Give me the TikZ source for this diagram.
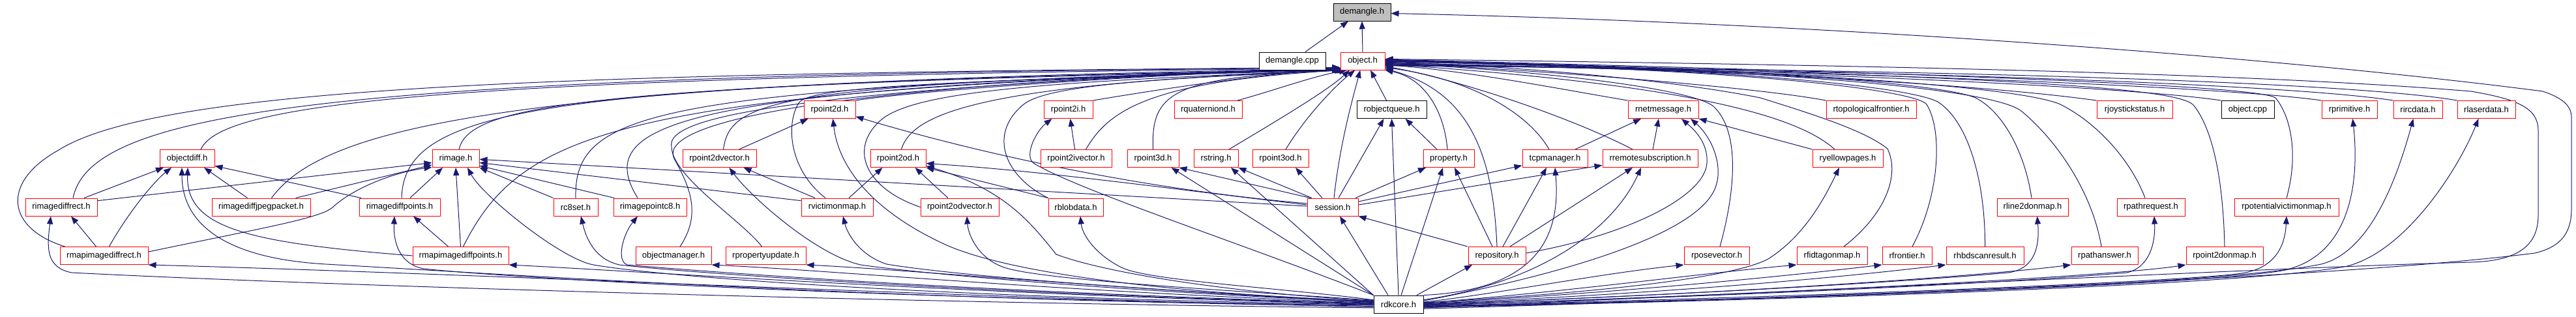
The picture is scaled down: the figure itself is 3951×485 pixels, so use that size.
\documentclass[tikz,border=0pt]{standalone}
\usepackage{fontspec}
\setmainfont{Liberation Sans}
\usetikzlibrary{arrows.meta}
\definecolor{edgeblue}{HTML}{191970}
\definecolor{nodegray}{HTML}{BFBFBF}
\pgfdeclarelayer{bglayer}
\pgfdeclarelayer{edgelayer}
\pgfsetlayers{bglayer,edgelayer,main}
\begin{document}
\begin{tikzpicture}[x=1pt,y=-1pt,
  box/.style={draw=red, line width=1pt, fill=white, minimum height=27pt, inner sep=0pt, text=black, font=\fontsize{13pt}{15pt}\selectfont},
  blk/.style={box, draw=black},
  e/.style={draw=edgeblue, line width=1pt, -{Triangle[length=12pt,width=9pt]}}]
\begin{pgfonlayer}{bglayer}
\fill[white] (0,0) rectangle (3951,485);
\end{pgfonlayer}
\useasboundingbox (0,0) rectangle (3951,485);
% row 0-1
\node[blk, fill=nodegray, minimum width=88pt] (demangle) at (2089,18.5) {demangle.h};
\node[blk, minimum width=102pt] (demanglecpp) at (1982,93.5) {demangle.cpp};
\node[box, minimum width=68pt] (object) at (2090,93.5) {object.h};
% row 2
\node[box, minimum width=79pt] (rpoint2d) at (1272.5,168) {rpoint2d.h};
\node[box, minimum width=75pt] (rpoint2i) at (1638.5,168) {rpoint2i.h};
\node[box, minimum width=104pt] (rquaterniond) at (1853,168) {rquaterniond.h};
\node[blk, minimum width=107pt] (robjectqueue) at (2134.5,168) {robjectqueue.h};
\node[box, minimum width=108pt] (rnetmessage) at (2551,168) {rnetmessage.h};
\node[box, minimum width=138pt] (rtopologicalfrontier) at (2870,168) {rtopologicalfrontier.h};
\node[box, minimum width=116pt] (rjoystickstatus) at (3274,168) {rjoystickstatus.h};
\node[blk, minimum width=81pt] (objectcpp) at (3447.5,168) {object.cpp};
\node[box, minimum width=85pt] (rprimitive) at (3603.5,168) {rprimitive.h};
\node[box, minimum width=75pt] (rircdata) at (3708.5,168) {rircdata.h};
\node[box, minimum width=89pt] (rlaserdata) at (3813.5,168) {rlaserdata.h};
% row 3
\node[box, minimum width=84pt] (objectdiff) at (287,243) {objectdiff.h};
\node[box, minimum width=72pt] (rimage) at (699,243) {rimage.h};
\node[box, minimum width=113pt] (rpoint2dvector) at (1103.5,243) {rpoint2dvector.h};
\node[box, minimum width=85pt] (rpoint2od) at (1377.5,243) {rpoint2od.h};
\node[box, minimum width=109pt] (rpoint2ivector) at (1650.5,243) {rpoint2ivector.h};
\node[box, minimum width=79pt] (rpoint3d) at (1768.5,243) {rpoint3d.h};
\node[box, minimum width=68pt] (rstring) at (1865,243) {rstring.h};
\node[box, minimum width=86pt] (rpoint3od) at (1964,243) {rpoint3od.h};
\node[box, minimum width=78pt] (property) at (2222,243) {property.h};
\node[box, minimum width=100pt] (tcpmanager) at (2385,243) {tcpmanager.h};
\node[box, minimum width=146pt] (rremotesubscription) at (2531,243) {rremotesubscription.h};
\node[box, minimum width=108pt] (ryellowpages) at (2834,243) {ryellowpages.h};
% row 4
\node[box, minimum width=110pt] (rimagediffrect) at (94,317.5) {rimagediffrect.h};
\node[box, minimum width=151pt] (rimagediffjpegpacket) at (400.5,317.5) {rimagediffjpegpacket.h};
\node[box, minimum width=124pt] (rimagediffpoints) at (613,317.5) {rimagediffpoints.h};
\node[box, minimum width=68pt] (rc8set) at (883,317.5) {rc8set.h};
\node[box, minimum width=112pt] (rimagepointc8) at (997,317.5) {rimagepointc8.h};
\node[box, minimum width=110pt] (rvictimonmap) at (1284,317.5) {rvictimonmap.h};
\node[box, minimum width=120pt] (rpoint2odvector) at (1472,317.5) {rpoint2odvector.h};
\node[box, minimum width=84pt] (rblobdata) at (1650,317.5) {rblobdata.h};
\node[box, minimum width=78pt] (session) at (2044,317.5) {session.h};
\node[box, minimum width=109pt] (rline2donmap) at (3117.5,317.5) {rline2donmap.h};
\node[box, minimum width=104pt] (rpathrequest) at (3299,317.5) {rpathrequest.h};
\node[box, minimum width=160pt] (rpotentialvictimonmap) at (3507,317.5) {rpotentialvictimonmap.h};
% row 5
\node[box, minimum width=135pt] (rmapimagediffrect) at (159.5,392) {rmapimagediffrect.h};
\node[box, minimum width=147pt] (rmapimagediffpoints) at (706.5,392) {rmapimagediffpoints.h};
\node[box, minimum width=116pt] (objectmanager) at (1033,392) {objectmanager.h};
\node[box, minimum width=123pt] (rpropertyupdate) at (1174.5,392) {rpropertyupdate.h};
\node[box, minimum width=88pt] (repository) at (2296,392) {repository.h};
\node[box, minimum width=100pt] (rposevector) at (2633,392) {rposevector.h};
\node[box, minimum width=108pt] (rfidtagonmap) at (2810,392) {rfidtagonmap.h};
\node[box, minimum width=76pt] (rfrontier) at (2925,392) {rfrontier.h};
\node[box, minimum width=119pt] (rhbdscanresult) at (3044.5,392) {rhbdscanresult.h};
\node[box, minimum width=102pt] (rpathanswer) at (3228,392) {rpathanswer.h};
\node[box, minimum width=118pt] (rpoint2donmap) at (3412,392) {rpoint2donmap.h};
% row 6
\node[blk, minimum width=76pt] (rdkcore) at (2145,466.5) {rdkcore.h};

\begin{pgfonlayer}{edgelayer}
% to demangle.h
\draw[e] ([xshift=20pt]demanglecpp.north) -- ([xshift=-21pt]demangle.south);
\draw[e] (object.north) -- (demangle.south);
\draw[e] (rdkcore.350) .. controls (2900,452) and (3600,425) .. (3888,388) .. controls (3930,378) and (3944,355) .. (3944,320) -- (3944,180) .. controls (3944,162) and (3930,150) .. (3900,140) .. controls (3500,88) and (2800,35) .. ([yshift=-2pt]demangle.east);
% to object.h from the left
\draw[e] ([xshift=-60pt]rmapimagediffrect.north) .. controls (10,350) and (0,280) .. (90,230) .. controls (250,130) and (900,112) .. (object.196);
\draw[e] ([xshift=18pt]rimagediffrect.north) .. controls (140,170) and (500,114) .. (object.197);
\draw[e] ([xshift=21pt]objectdiff.north) .. controls (340,160) and (650,118) .. (object.198);
\draw[e] ([xshift=16pt]rimagediffjpegpacket.north) .. controls (500,190) and (800,125) .. (object.199);
\draw[e] ([xshift=3pt]rimagediffpoints.north) .. controls (620,160) and (850,130) .. (object.200);
\draw[e] ([xshift=5pt]rimage.north) .. controls (720,160) and (900,130) .. (object.201);
\draw[e] ([xshift=4pt]rmapimagediffpoints.north) .. controls (800,200) and (950,138) .. (object.200);
\draw[e] (rc8set.north) .. controls (880,170) and (1000,135) .. (object.199);
\draw[e] ([xshift=-19pt]rimagepointc8.north) .. controls (905,185) and (1050,135) .. (object.198);
\draw[e] ([xshift=10pt]objectmanager.north) .. controls (1075,330) and (1060,290) .. (1035,245) .. controls (1005,195) and (1200,132) .. (object.197);
\draw[e] ([xshift=-6pt]rpropertyupdate.north) .. controls (1140,340) and (1030,270) .. (1030,225) .. controls (1020,180) and (1200,138) .. (object.196);
\draw[e] ([xshift=6pt]rpoint2dvector.north) .. controls (1120,150) and (1200,128) .. (object.201);
\draw[e] ([xshift=-18pt]rvictimonmap.north) .. controls (1210,260) and (1205,190) .. (1225,158) .. controls (1240,135) and (1400,125) .. (object.202);
\draw[e] (rpoint2d.north east) .. controls (1400,140) and (1700,118) .. (object.196);
\draw[e] ([xshift=5pt]rpoint2od.north) .. controls (1400,170) and (1520,128) .. (object.205);
\draw[e] (rpoint2odvector.west) .. controls (1330,290) and (1300,230) .. (1350,185) .. controls (1400,140) and (1600,125) .. (object.204);
\draw[e] (rblobdata.north west) .. controls (1540,270) and (1515,205) .. (1570,160) .. controls (1610,128) and (1800,120) .. (object.207);
\draw[e] (rpoint2i.north east) .. controls (1760,140) and (1900,118) .. (object.197);
\draw[e] ([xshift=15pt]rpoint2ivector.north) .. controls (1700,170) and (1760,125) .. (object.205);
\draw[e] ([xshift=45pt]rquaterniond.north) .. controls (1950,140) and (2010,118) .. (object.210);
\draw[e] (rpoint3d.north) .. controls (1765,140) and (1800,118) .. (object.208);
\draw[e] ([xshift=20pt]rstring.north) .. controls (1950,190) and (2035,140) .. (object.215);
\draw[e] ([xshift=8pt]rpoint3od.north) .. controls (2005,175) and (2050,130) .. (object.230);
\draw[e] ([xshift=2pt]session.north) .. controls (2055,220) and (2075,150) .. (object.255);
\draw[e] ([xshift=-8pt]robjectqueue.north) -- ([xshift=12pt]object.south);
% to object.h from the right
\draw[e] ([xshift=-2pt]property.north) .. controls (2215,170) and (2185,120) .. (object.338);
\draw[e] (repository.north) .. controls (2290,230) and (2250,140) .. (object.341);
\draw[e] ([xshift=-9pt]tcpmanager.north) .. controls (2345,175) and (2260,122) .. (object.344);
\draw[e] ([xshift=-27pt]rremotesubscription.north) .. controls (2420,185) and (2250,125) .. (object.347);
\draw[e] (rnetmessage.north west) .. controls (2400,138) and (2250,108) .. (object.350);
\draw[e] ([xshift=-20pt]ryellowpages.north) .. controls (2760,180) and (2600,130) .. (object.352);
\draw[e] ([xshift=5pt]rposevector.north) .. controls (2665,280) and (2665,200) .. (2630,165) .. controls (2610,140) and (2400,110) .. (object.354);
\draw[e] (rtopologicalfrontier.north west) .. controls (2700,135) and (2400,110) .. (object.356);
\draw[e] ([xshift=18pt]rfidtagonmap.north) .. controls (2890,330) and (2915,270) .. (2895,228) .. controls (2860,200) and (2780,175) .. (2700,150) .. controls (2550,120) and (2300,100) .. (object.357);
\draw[e] ([xshift=8pt]rfrontier.north) .. controls (2975,300) and (2980,200) .. (2955,160) .. controls (2940,140) and (2700,105) .. (object.358);
\draw[e] (rhbdscanresult.north) .. controls (3045,280) and (3020,190) .. (2975,158) .. controls (2945,136) and (2700,105) .. (object.359);
\draw[e] ([xshift=-1.5pt]rline2donmap.north) .. controls (3105,230) and (3070,170) .. (3030,150) .. controls (2990,132) and (2750,105) .. (object.0);
\draw[e] ([xshift=-5pt]rpathanswer.north) .. controls (3210,300) and (3160,220) .. (3100,170) .. controls (3060,140) and (2800,108) .. (object.1);
\draw[e] ([xshift=-9pt]rpathrequest.north) .. controls (3270,250) and (3220,190) .. (3160,160) .. controls (3110,138) and (2850,110) .. (object.2);
\draw[e] (rjoystickstatus.north west) .. controls (3100,138) and (2800,110) .. (object.355);
\draw[e] (objectcpp.north west) .. controls (3300,138) and (2900,112) .. (object.353);
\draw[e] (rpoint2donmap.north) .. controls (3410,280) and (3395,200) .. (3365,162) .. controls (3345,135) and (3100,118) .. (object.3);
\draw[e] (rpotentialvictimonmap.north) .. controls (3525,240) and (3515,180) .. (3490,150) .. controls (3470,136) and (3200,118) .. (object.4);
\draw[e] (rprimitive.north west) .. controls (3450,138) and (3000,112) .. (object.351);
\draw[e] (rircdata.north west) .. controls (3550,135) and (3100,110) .. (object.349);
\draw[e] (rlaserdata.north west) .. controls (3650,133) and (3200,108) .. (object.348);
\draw[e] (rdkcore.352) .. controls (2800,445) and (3500,410) .. (3790,402) .. controls (3860,400) and (3893,378) .. (3893,330) -- (3893,200) .. controls (3893,165) and (3860,152) .. (3790,140) .. controls (3400,108) and (2700,98) .. (object.5);
% image family
\draw[e] ([xshift=35pt]rimagediffrect.north) -- ([xshift=-36pt]objectdiff.south);
\draw[e] (rimagediffrect.10) -- (rimage.190);
\draw[e] ([xshift=-12pt]rmapimagediffrect.north) -- ([xshift=15pt]rimagediffrect.south);
\draw[e] ([xshift=8pt]rmapimagediffrect.north) .. controls (200,320) and (240,275) .. ([xshift=-24pt]objectdiff.south);
\draw[e] (rmapimagediffrect.5) .. controls (400,350) and (490,335) .. (510,318) .. controls (540,290) and (600,265) .. (rimage.200);
\draw[e] (rmapimagediffpoints.west) .. controls (380,372) and (285,350) .. ([xshift=1pt]objectdiff.south);
\draw[e] ([xshift=-21pt]rimagediffjpegpacket.north) -- ([xshift=26pt]objectdiff.south);
\draw[e] ([xshift=53pt]rimagediffjpegpacket.north) -- (rimage.195);
\draw[e] ([xshift=-59pt]rimagediffpoints.north) -- (objectdiff.345);
\draw[e] ([xshift=16pt]rimagediffpoints.north) -- ([xshift=-20pt]rimage.south);
\draw[e] ([xshift=-19pt]rmapimagediffpoints.north) -- ([xshift=21pt]rimagediffpoints.south);
\draw[e] (rmapimagediffpoints.north) -- (rimage.south);
\draw[e] (rc8set.north west) -- (rimage.south east);
\draw[e] ([xshift=-55pt]rimagepointc8.north) -- (rimage.343);
\draw[e] (rvictimonmap.170) -- (rimage.350);
\draw[e] (session.178) -- (rimage.358);
% point family
\draw[e] ([xshift=-34pt]rvictimonmap.north) -- ([xshift=37pt]rpoint2dvector.south);
\draw[e] ([xshift=30pt]rpoint2dvector.north) -- ([xshift=-33pt]rpoint2d.south);
\draw[e] (session.172) .. controls (1750,290) and (1500,235) .. (rpoint2d.345);
\draw[e] ([xshift=18pt]rvictimonmap.north) -- ([xshift=-24pt]rpoint2od.south);
\draw[e] ([xshift=-18pt]rpoint2odvector.north) -- ([xshift=26pt]rpoint2od.south);
\draw[e] (rblobdata.north west) -- (rpoint2od.south east);
\draw[e] (session.175) .. controls (1800,290) and (1600,262) .. (rpoint2od.350);
\draw[e] ([xshift=-2pt]rpoint2ivector.north) -- ([xshift=3pt]rpoint2i.south);
% session and co
\draw[e] ([xshift=-34pt]session.north) -- (rpoint3d.south east);
\draw[e] ([xshift=-32pt]session.north) -- (rstring.south east);
\draw[e] ([xshift=-16pt]session.north) -- ([xshift=23pt]rpoint3od.south);
\draw[e] ([xshift=9pt]session.north) -- ([xshift=-12pt]robjectqueue.south);
\draw[e] ([xshift=35pt]session.north) -- ([xshift=-35pt]property.south);
\draw[e] (session.12) -- (tcpmanager.192);
\draw[e] (session.5) -- (rremotesubscription.188);
\draw[e] ([xshift=-18pt]property.north) -- ([xshift=21pt]robjectqueue.south);
\draw[e] ([xshift=-45pt]repository.north) -- (session.south east);
\draw[e] ([xshift=-7pt]repository.north) -- ([xshift=9pt]property.south);
\draw[e] ([xshift=9pt]repository.north) -- ([xshift=-13pt]tcpmanager.south);
\draw[e] ([xshift=20pt]repository.north) -- ([xshift=-27pt]rremotesubscription.south);
\draw[e] ([xshift=31pt]tcpmanager.north) -- ([xshift=-34pt]rnetmessage.south);
\draw[e] ([xshift=4pt]rremotesubscription.north) -- ([xshift=-7pt]rnetmessage.south);
\draw[e] (repository.5) .. controls (2500,360) and (2615,300) .. (2618,250) .. controls (2620,220) and (2600,200) .. ([xshift=28pt]rnetmessage.south);
\draw[e] (ryellowpages.north west) -- (rnetmessage.south east);
% from rdkcore.h, left
\draw[e] (rdkcore.186) .. controls (1500,458) and (800,422) .. (rmapimagediffrect.south east);
\draw[e] (rdkcore.188) .. controls (1400,465) and (500,438) .. (110,418) .. controls (70,410) and (72,380) .. ([xshift=-16pt]rimagediffrect.south);
\draw[e] (rdkcore.184) .. controls (1400,462) and (800,422) .. (500,405) .. controls (340,396) and (279,340) .. ([xshift=-8pt]objectdiff.south);
\draw[e] (rdkcore.182) .. controls (1400,460) and (800,428) .. (650,412) .. controls (612,405) and (603,370) .. ([xshift=-8pt]rimagediffpoints.south);
\draw[e] (rdkcore.180) .. controls (1500,452) and (1000,417) .. (rmapimagediffpoints.south east);
\draw[e] (rdkcore.181) .. controls (1400,456) and (1000,422) .. (910,406) .. controls (860,397) and (740,300) .. ([xshift=18pt]rimage.south);
\draw[e] (rdkcore.179) .. controls (1500,450) and (1050,418) .. (950,406) .. controls (915,398) and (900,370) .. ([xshift=8pt]rc8set.south);
\draw[e] (rdkcore.178) .. controls (1500,448) and (1100,418) .. (962,406) .. controls (945,400) and (955,360) .. ([xshift=-19pt]rimagepointc8.south);
\draw[e] (rdkcore.177) .. controls (1600,446) and (1300,416) .. (objectmanager.south east);
\draw[e] (rdkcore.176) .. controls (1700,442) and (1400,414) .. (rpropertyupdate.south east);
\draw[e] (rdkcore.175) .. controls (1700,446) and (1400,418) .. (1320,406) .. controls (1250,390) and (1150,300) .. ([xshift=15pt]rpoint2dvector.south);
\draw[e] (rdkcore.174) .. controls (1700,442) and (1450,420) .. (1360,405) .. controls (1320,392) and (1300,360) .. ([xshift=9pt]rvictimonmap.south);
\draw[e] (rdkcore.173) .. controls (1800,450) and (1550,420) .. (1450,375) .. controls (1330,320) and (1285,250) .. ([xshift=5pt]rpoint2d.south);
\draw[e] (rdkcore.172) .. controls (1900,450) and (1700,420) .. (1620,390) .. controls (1580,340) and (1540,290) .. (rpoint2od.345);
\draw[e] (rdkcore.171) .. controls (1900,446) and (1600,430) .. (1540,410) .. controls (1500,396) and (1485,360) .. ([xshift=11pt]rpoint2odvector.south);
\draw[e] (rdkcore.170) .. controls (1950,440) and (1760,430) .. (1720,410) .. controls (1680,390) and (1660,360) .. ([xshift=7pt]rblobdata.south);
\draw[e] (rdkcore.north west) .. controls (1900,372) and (1650,290) .. (1585,250) .. controls (1570,238) and (1590,200) .. ([xshift=-25pt]rpoint2i.south);
\draw[e] (rdkcore.north west) -- ([xshift=28pt]rpoint3d.south);
\draw[e] (rdkcore.north west) -- ([xshift=23pt]rstring.south);
% from rdkcore.h, up
\draw[e] ([xshift=-16pt]rdkcore.north) -- ([xshift=11pt]session.south);
\draw[e] (rdkcore.north) -- (robjectqueue.south);
\draw[e] ([xshift=4pt]rdkcore.north) -- ([xshift=-9pt]property.south);
\draw[e] ([xshift=28pt]rdkcore.north) -- ([xshift=-38pt]repository.south);
\draw[e] (rdkcore.north east) .. controls (2350,445) and (2395,370) .. (tcpmanager.south);
\draw[e] (rdkcore.10) .. controls (2380,430) and (2480,340) .. ([xshift=-14pt]rremotesubscription.south);
\draw[e] (rdkcore.8) .. controls (2400,420) and (2600,360) .. (2630,290) .. controls (2645,255) and (2625,210) .. ([xshift=42pt]rnetmessage.south);
% from rdkcore.h, right
\draw[e] (rdkcore.5) .. controls (2300,450) and (2450,420) .. (rposevector.south west);
\draw[e] (rdkcore.4) .. controls (2400,452) and (2650,430) .. (2712,397) .. controls (2770,360) and (2800,300) .. ([xshift=-13pt]ryellowpages.south);
\draw[e] (rdkcore.3) .. controls (2400,448) and (2600,420) .. (rfidtagonmap.south west);
\draw[e] (rdkcore.2) .. controls (2500,448) and (2750,422) .. (rfrontier.south west);
\draw[e] (rdkcore.1) .. controls (2600,448) and (2850,422) .. (rhbdscanresult.south west);
\draw[e] (rdkcore.0) .. controls (2600,452) and (2950,430) .. (3080,418) .. controls (3125,412) and (3128,370) .. ([xshift=7pt]rline2donmap.south);
\draw[e] (rdkcore.359) .. controls (2700,448) and (3050,422) .. (rpathanswer.south west);
\draw[e] (rdkcore.358) .. controls (2800,450) and (3150,428) .. (3262,418) .. controls (3298,410) and (3306,370) .. ([xshift=5pt]rpathrequest.south);
\draw[e] (rdkcore.357) .. controls (2800,448) and (3250,422) .. (rpoint2donmap.south west);
\draw[e] (rdkcore.356) .. controls (2900,452) and (3350,430) .. (3430,420) .. controls (3495,414) and (3505,370) .. (rpotentialvictimonmap.south);
\draw[e] (rdkcore.355) .. controls (3000,452) and (3400,432) .. (3500,415) .. controls (3600,395) and (3620,290) .. ([xshift=5pt]rprimitive.south);
\draw[e] (rdkcore.354) .. controls (3050,452) and (3450,428) .. (3560,405) .. controls (3640,385) and (3680,260) .. ([xshift=-7pt]rircdata.south);
\draw[e] (rdkcore.353) .. controls (3100,452) and (3500,428) .. (3600,408) .. controls (3690,385) and (3770,260) .. ([xshift=-12pt]rlaserdata.south);
\end{pgfonlayer}
\end{tikzpicture}
\end{document}
